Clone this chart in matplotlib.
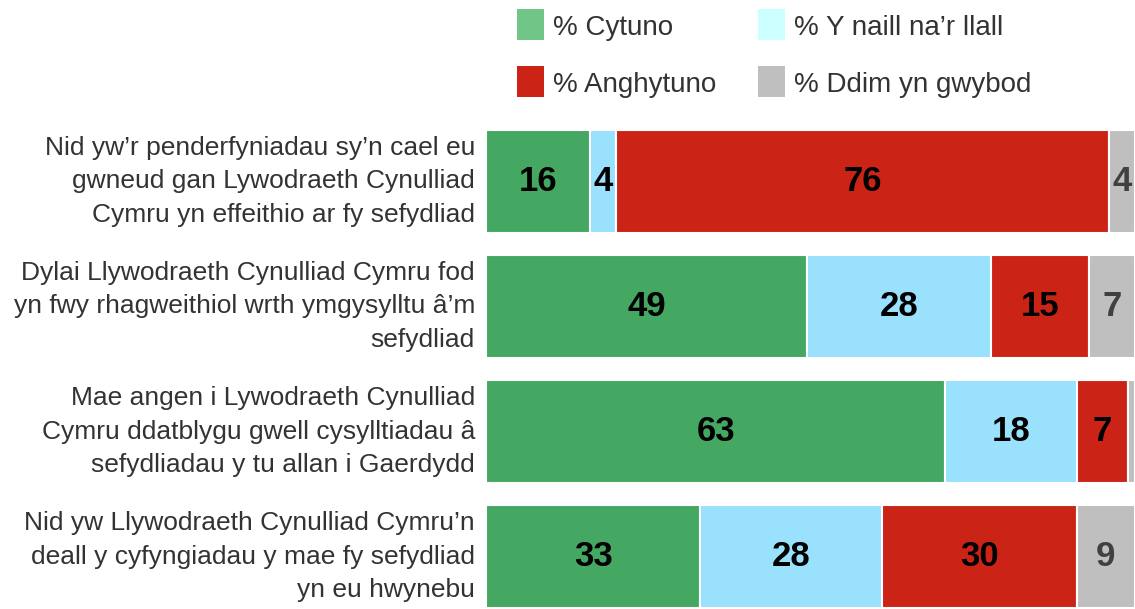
import matplotlib
matplotlib.use("Agg")
import matplotlib.pyplot as plt
from matplotlib.patches import Rectangle
import numpy as np

categories = [
    "Nid yw\u2019r penderfyniadau sy\u2019n cael eu\ngwneud gan Lywodraeth Cynulliad\nCymru yn effeithio ar fy sefydliad",
    "Dylai Llywodraeth Cynulliad Cymru fod\nyn fwy rhagweithiol wrth ymgysylltu \u00e2\u2019m\nsefydliad",
    "Mae angen i Lywodraeth Cynulliad\nCymru ddatblygu gwell cysylltiadau \u00e2\nsefydliadau y tu allan i Gaerdydd",
    "Nid yw Llywodraeth Cynulliad Cymru\u2019n\ndeall y cyfyngiadau y mae fy sefydliad\nyn eu hwynebu",
]
series_names = ["% Cytuno", "% Y naill na\u2019r llall", "% Anghytuno", "% Ddim yn gwybod"]
cytuno = [16, 49, 63, 33]
naill = [4, 28, 18, 28]
anghytuno = [76, 15, 7, 30]
ddim = [4, 7, 1, 9]

bar_colors = ["#45a862", "#99e1fd", "#cb2316", "#bfbfbf"]
legend_colors = ["#6fc687", "#ccffff", "#cb2316", "#bfbfbf"]
label_colors = ["#000000", "#000000", "#000000", "#404040"]

W, H = 1135, 609
fig = plt.figure(figsize=(W / 100, H / 100), dpi=100)
ax = fig.add_axes([486 / W, 1 / H, 1 - 486 / W, (608 - 130) / H])

data = np.array([cytuno, naill, anghytuno, ddim], dtype=float)
totals = data.sum(axis=0)
pct = data / totals * 100
y = np.arange(len(categories))
bh = 0.82
left = np.zeros(len(categories))
for i in range(len(series_names)):
    bars = ax.barh(y, pct[i], left=left, height=bh, color=bar_colors[i],
                   edgecolor="white", linewidth=1.5)
    for j, b in enumerate(bars):
        if data[i, j] >= 3:
            ax.text(left[j] + pct[i, j] / 2, y[j], f"{int(data[i, j])}",
                    ha="center", va="center", fontsize=25, fontweight="bold",
                    color=label_colors[i],
                    family=["Liberation Sans Narrow", "Liberation Sans", "DejaVu Sans"])
    left += pct[i]

ax.set_xlim(0, 100)
ax.set_ylim(len(categories) - 1 + bh / 2, -bh / 2)
ax.set_yticks(y)
ax.set_yticklabels(categories, fontsize=19, color="#333333",
                   family=["Liberation Sans", "DejaVu Sans"], ha="right",
                   va="center", linespacing=1.5)
ax.tick_params(axis="y", length=0, pad=8)
ax.set_xticks([])
for s in ax.spines.values():
    s.set_visible(False)

# legend (manual 2x2 grid)
leg_pos = [(517, 9), (758, 9), (517, 66), (758, 66)]
for name, col, (lx, ly) in zip(series_names, legend_colors, leg_pos):
    fig.add_artist(Rectangle((lx / W, 1 - (ly + 31) / H), 27 / W, 31 / H,
                             transform=fig.transFigure, facecolor=col,
                             edgecolor="none"))
    fig.text((lx + 36) / W, 1 - (ly + 19) / H, name, fontsize=20,
             color="#333333", va="center", ha="left",
             family=["Liberation Sans", "DejaVu Sans"])

fig.savefig("out.png", dpi=100)
